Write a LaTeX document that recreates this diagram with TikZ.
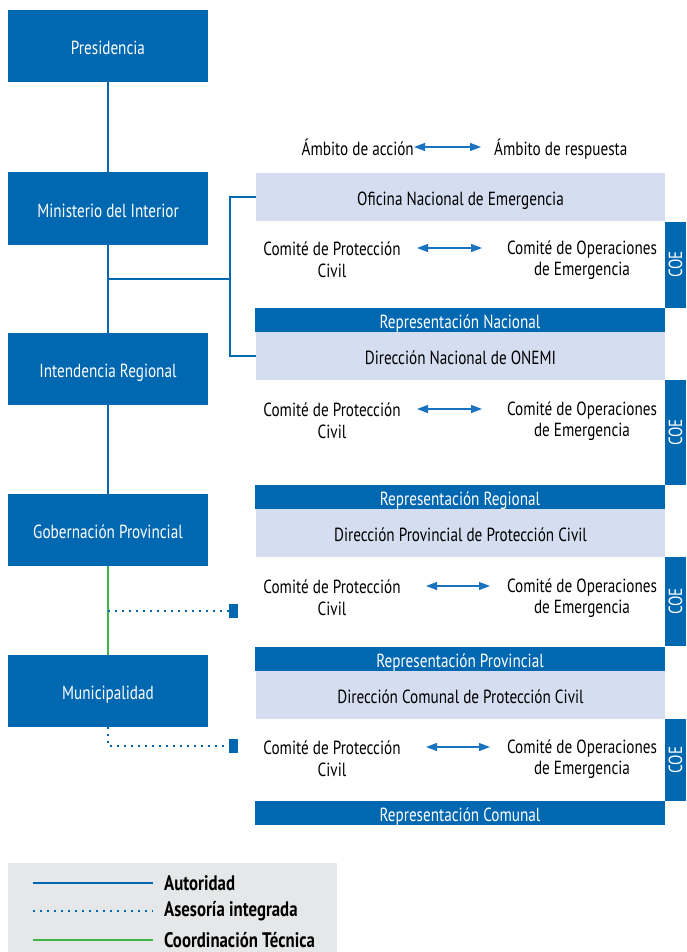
\documentclass[tikz,border=0pt]{standalone}
\usepackage{fontspec}
\setmainfont[FakeStretch=0.80]{PT Sans}
\usetikzlibrary{arrows.meta}
\definecolor{dblue}{HTML}{0067B1}
\definecolor{lblue}{HTML}{D5DDF0}
\definecolor{lgray}{HTML}{E6E7E8}
\definecolor{lgreen}{HTML}{3DB54A}
\definecolor{ablue}{HTML}{1A73C0}
\tikzset{
  onel/.style={text height=17pt,text depth=0pt},
  leftbox/.style={onel,fill=dblue,text=white,minimum width=200pt,minimum height=72pt,inner sep=0pt,font=\fontsize{19}{21}\selectfont},
  lightbox/.style={onel,fill=lblue,text=black,minimum width=409pt,minimum height=48pt,inner sep=0pt,font=\fontsize{19}{21}\selectfont},
  darkbar/.style={onel,fill=dblue,text=white,minimum width=410pt,minimum height=24pt,inner sep=0pt,font=\fontsize{19}{21}\selectfont},
  coebar/.style={fill=dblue,text=white,minimum width=21pt,inner sep=0pt,font=\fontsize{19}{21}\selectfont},
  comtext/.style={align=center,inner sep=0pt,font=\fontsize{19}{21.5}\selectfont},
  auth/.style={draw=dblue,line width=1.6pt},
  coord/.style={draw=lgreen,line width=1.6pt},
  advice/.style={draw=dblue,line width=1.6pt,dash pattern=on 1.6pt off 5.4pt},
  dbl/.style={draw=ablue,line width=1.2pt,{Triangle[length=11pt,width=8pt]}-{Triangle[length=11pt,width=8pt]}},
  hdr/.style={onel,inner sep=0pt,font=\fontsize{19}{21}\selectfont},
  legtext/.style={anchor=west,inner sep=0pt,font=\fontsize{21}{23}\selectfont\bfseries},
  sq/.style={fill=dblue,minimum width=9pt,minimum height=14pt,inner sep=0pt}
}
\begin{document}
\begin{tikzpicture}[x=1pt,y=-1pt]
\useasboundingbox (0,0) rectangle (686,952);
% left column
\node[leftbox] (pres) at (108,46) {Presidencia};
\node[leftbox] (mint) at (108,208.5) {Ministerio del Interior};
\node[leftbox] (intr) at (108,369) {Intendencia Regional};
\node[leftbox] (gobp) at (108,530) {Gobernación Provincial};
\node[leftbox] (muni) at (108,691) {Municipalidad};
% right panels
\node[lightbox] (ofic) at (460.5,197) {Oficina Nacional de Emergencia};
\node[darkbar] (repn) at (460,320) {Representación Nacional};
\node[lightbox] (dnac) at (460.5,356) {Dirección Nacional de ONEMI};
\node[darkbar] (repr) at (460,497) {Representación Regional};
\node[lightbox] (dprov) at (460.5,533) {Dirección Provincial de Protección Civil};
\node[darkbar] (repp) at (460,658.5) {Representación Provincial};
\node[lightbox] (dcom) at (460.5,695) {Dirección Comunal de Protección Civil};
\node[darkbar] (repc) at (460,813) {Representación Comunal};
% COE bars
\node[coebar,minimum height=86pt] (coe1) at (675.5,264.5) {\rotatebox{90}{COE}};
\node[coebar,minimum height=105pt] (coe2) at (675.5,432.5) {\rotatebox{90}{COE}};
\node[coebar,minimum height=89pt] (coe3) at (675.5,601.5) {\rotatebox{90}{COE}};
\node[coebar,minimum height=82pt] (coe4) at (675.5,760) {\rotatebox{90}{COE}};
% committees
\node[comtext] (cpc1) at (332,260) {Comité de Protección\\Civil};
\node[comtext] (coe1t) at (582,260) {Comité de Operaciones\\de Emergencia};
\node[comtext] (cpc2) at (332,421) {Comité de Protección\\Civil};
\node[comtext] (coe2t) at (582,421) {Comité de Operaciones\\de Emergencia};
\node[comtext] (cpc3) at (332,598) {Comité de Protección\\Civil};
\node[comtext] (coe3t) at (582,598) {Comité de Operaciones\\de Emergencia};
\node[comtext] (cpc4) at (332,759) {Comité de Protección\\Civil};
\node[comtext] (coe4t) at (582,759) {Comité de Operaciones\\de Emergencia};
\coordinate (a1l) at (417,248); \coordinate (a1r) at (482,248);
\coordinate (a2l) at (417,409); \coordinate (a2r) at (482,409);
\coordinate (a3l) at (426,586); \coordinate (a3r) at (490,586);
\coordinate (a4l) at (426,747); \coordinate (a4r) at (490,747);
\draw[dbl] (a1l) -- (a1r);
\draw[dbl] (a2l) -- (a2r);
\draw[dbl] (a3l) -- (a3r);
\draw[dbl] (a4l) -- (a4r);
% header
\node[hdr,anchor=east] (amba) at (414,147) {Ámbito de acción};
\node[hdr,anchor=west] (ambr) at (494,147) {Ámbito de respuesta};
\coordinate (hr) at (481,147);
\draw[dbl] (amba.east) -- (hr);
% connectors
\draw[auth] (pres.south) -- (mint.north);
\draw[auth] (mint.south) -- (intr.north);
\draw[auth] (intr.south) -- (gobp.north);
\draw[coord] (gobp.south) -- (muni.north);
\coordinate (j1) at (108,279);
\coordinate (br) at (230,279);
\draw[auth] (j1) -- (br);
\draw[auth] (ofic.west) -| (br) |- (dnac.west);
% dotted advice
\node[sq] (sq1) at (233.5,611) {};
\node[sq] (sq2) at (233.5,746) {};
\coordinate (d1) at (108,611);
\coordinate (d2) at (108,746);
\draw[advice] (d1) -- (sq1.west);
\draw[advice] (muni.south) -- (d2) -- (sq2.west);
% legend
\fill[lgray] (8,863) rectangle (337,952);
\coordinate (l1a) at (33,883); \coordinate (l1b) at (153,883);
\coordinate (l2a) at (33,911); \coordinate (l2b) at (153,911);
\coordinate (l3a) at (33,940); \coordinate (l3b) at (153,940);
\draw[auth] (l1a) -- (l1b);
\draw[advice] (l2a) -- (l2b);
\draw[coord] (l3a) -- (l3b);
\node[legtext] (lt1) at (164,883) {Autoridad};
\node[legtext] (lt2) at (164,911) {Asesoría integrada};
\node[legtext] (lt3) at (164,940) {Coordinación Técnica};
\end{tikzpicture}
\end{document}
